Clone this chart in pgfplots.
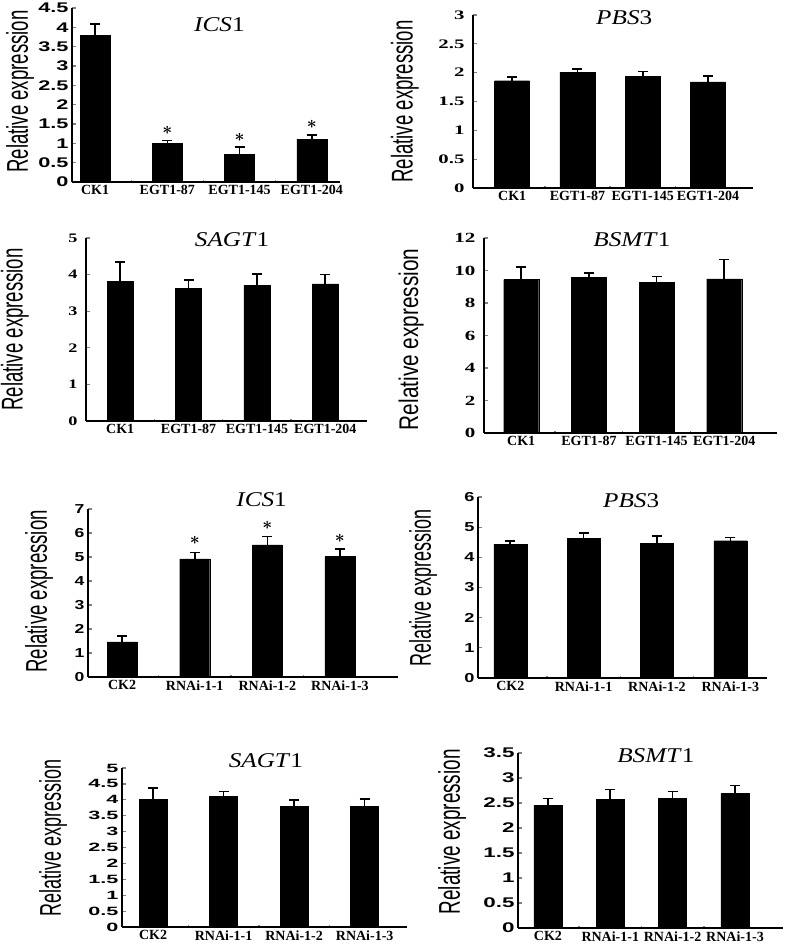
\documentclass[border=0pt]{standalone}
\usepackage{fontspec}
\setmainfont{Liberation Serif}
\setsansfont{Liberation Sans}
\usepackage{graphicx}
\usepackage{pgfplots}
\pgfplotsset{compat=1.18}
\newcommand\ylab[2]{\scalebox{#2}[1]{\fontsize{#1}{#1}\selectfont\sffamily Relative expression}}
\newcommand\ttl[1]{\scalebox{1.2}[1]{#1}}

\pgfplotsset{
  panel/.style={
    scale only axis, clip=false,
    axis x line*=bottom, axis y line*=left,
    axis line style={line width=1.4pt},
    ymin=0,
    xtick={0,1,2,3}, minor xtick={0.5,1.5,2.5},
    major x tick style={draw=none},
    minor x tick style={line width=1.4pt},
    ytick style={line width=1.2pt},
    tick align=inside, major tick length=4pt, minor tick length=2.5pt,
    xticklabel style={font=\fontsize{14}{14}\selectfont\bfseries},
    /pgf/number format/assume math mode=true,
    ylabel style={anchor=center},
    title style={anchor=center, font=\fontsize{21}{21}\selectfont},
  },
  sanstick/.style 2 args={
    yticklabel={\scalebox{#2}[1]{\pgfmathprintnumber{\tick}}},
    yticklabel style={font=\sffamily\bfseries\fontsize{#1}{#1}\selectfont}},
  seriftick/.style 2 args={
    yticklabel={\scalebox{#2}[1]{\pgfmathprintnumber{\tick}}},
    yticklabel style={font=\rmfamily\bfseries\fontsize{#1}{#1}\selectfont, xshift=-5pt}},
  bars/.style={ybar, bar width=#1, fill=black, draw=black,
    error bars/.cd, y dir=plus, y explicit,
    error bar style={line width=1.6pt},
    error mark options={rotate=90, mark size=5pt, line width=1.6pt}},
  stars/.style={only marks, mark=text,
    text mark={\fontsize{18}{18}\selectfont\boldmath$\ast$}},
}

\begin{document}
\begin{tikzpicture}
\useasboundingbox (0pt,0pt) rectangle (787pt,-945pt);

% row 1, left: ICS1 (EGT1 lines)
\begin{axis}[panel, sanstick={14}{1.55}, at={(72pt,-182pt)}, anchor=south west,
  width=268pt, height=174pt, xmin=-0.32, xmax=3.39, ymax=4.5, ytick distance=0.5,
  xticklabels={CK1,EGT1-87,EGT1-145,EGT1-204},
  ylabel={\ylab{30}{0.62}}, ylabel style={at={(axis description cs:-0.194,0.52)}},
  title={\ttl{\textit{ICS}1}}, title style={at={(axis description cs:0.55,0.87)}}]
\addplot[bars=30pt] coordinates {(0,3.80) +- (0,0.28) (1,1.00) +- (0,0.07) (2,0.72) +- (0,0.18) (3,1.11) +- (0,0.10)};
\addplot[stars] coordinates {(1,1.33) (2,1.16) (3,1.50)};
\end{axis}

% row 1, right: PBS3
\begin{axis}[panel, seriftick={13}{1.6}, at={(473pt,-188pt)}, anchor=south west,
  width=280pt, height=173pt, xmin=-0.6, xmax=3.69, ymax=3, ytick distance=0.5,
  xticklabels={CK1,EGT1-87,EGT1-145,EGT1-204},
  ylabel={\ylab{30}{0.62}}, ylabel style={at={(axis description cs:-0.243,0.50)}},
  title={\ttl{\textit{PBS}3}}, title style={at={(axis description cs:0.54,0.95)}}]
\addplot[bars=35pt] coordinates {(0,1.86) +- (0,0.06) (1,2.01) +- (0,0.05) (2,1.94) +- (0,0.08) (3,1.84) +- (0,0.10)};
\end{axis}

% row 2, left: SAGT1
\begin{axis}[panel, seriftick={13}{1.4}, at={(86pt,-421pt)}, anchor=south west,
  width=281pt, height=183pt, xmin=-0.5, xmax=3.61, ymax=5, ytick distance=1,
  xticklabels={CK1,EGT1-87,EGT1-145,EGT1-204},
  ylabel={\ylab{30}{0.62}}, ylabel style={at={(axis description cs:-0.253,0.50)}},
  title={\ttl{\textit{SAGT}1}}, title style={at={(axis description cs:0.52,0.96)}}]
\addplot[bars=26pt] coordinates {(0,3.81) +- (0,0.53) (1,3.63) +- (0,0.23) (2,3.70) +- (0,0.32) (3,3.75) +- (0,0.25)};
\end{axis}

% row 2, right: BSMT1
\begin{axis}[panel, seriftick={14}{1.5}, at={(484pt,-433pt)}, anchor=south west,
  width=293pt, height=195pt, xmin=-0.55, xmax=3.78, ymax=12, ytick distance=2,
  xticklabels={CK1,EGT1-87,EGT1-145,EGT1-204},
  ylabel={\ylab{27}{0.77}}, ylabel style={at={(axis description cs:-0.249,0.48)}},
  title={\ttl{\textit{BSMT}1}}, title style={at={(axis description cs:0.505,0.96)}}]
\addplot[bars=35pt] coordinates {(0,9.44) +- (0,0.76) (1,9.58) +- (0,0.27) (2,9.27) +- (0,0.37) (3,9.48) +- (0,1.19)};
\end{axis}

% row 3, left: ICS1 (RNAi lines)
\begin{axis}[panel, sanstick={13}{1.35}, at={(88pt,-677pt)}, anchor=south west,
  width=310pt, height=168pt, xmin=-0.47, xmax=3.8, ymax=7, ytick distance=1,
  xticklabels={CK2,RNAi-1-1,RNAi-1-2,RNAi-1-3},
  ylabel={\ylab{30}{0.62}}, ylabel style={at={(axis description cs:-0.158,0.51)}},
  title={\ttl{\textit{ICS}1}}, title style={at={(axis description cs:0.56,1.02)}}]
\addplot[bars=30pt] coordinates {(0,1.46) +- (0,0.26) (1,4.92) +- (0,0.27) (2,5.51) +- (0,0.35) (3,5.02) +- (0,0.31)};
\addplot[stars] coordinates {(1,5.71) (2,6.33) (3,5.79)};
\end{axis}

% row 3, right: PBS3
\begin{axis}[panel, sanstick={13}{1.4}, at={(478pt,-678pt)}, anchor=south west,
  width=289pt, height=181pt, xmin=-0.44, xmax=3.5, ymax=6, ytick distance=1,
  xticklabels={CK2,RNAi-1-1,RNAi-1-2,RNAi-1-3},
  ylabel={\ylab{30}{0.60}}, ylabel style={at={(axis description cs:-0.19,0.50)}},
  title={\ttl{\textit{PBS}3}}, title style={at={(axis description cs:0.53,0.945)}}]
\addplot[bars=33pt] coordinates {(0,4.44) +- (0,0.11) (1,4.64) +- (0,0.17) (2,4.46) +- (0,0.24) (3,4.55) +- (0,0.11)};
\end{axis}

% row 4, left: SAGT1
\begin{axis}[panel, sanstick={12}{1.8}, at={(122pt,-927pt)}, anchor=south west,
  width=285pt, height=159pt, xmin=-0.44, xmax=3.6, ymax=5, ytick distance=0.5,
  xticklabels={CK2,RNAi-1-1,RNAi-1-2,RNAi-1-3},
  ylabel={\ylab{30}{0.60}}, ylabel style={at={(axis description cs:-0.242,0.56)}},
  title={\ttl{\textit{SAGT}1}}, title style={at={(axis description cs:0.505,1.006)}}]
\addplot[bars=28pt] coordinates {(0,4.02) +- (0,0.35) (1,4.11) +- (0,0.15) (2,3.79) +- (0,0.21) (3,3.79) +- (0,0.23)};
\end{axis}

% row 4, right: BSMT1
\begin{axis}[panel, sanstick={14}{1.6}, at={(518pt,-928pt)}, anchor=south west,
  width=265pt, height=175pt, xmin=-0.48, xmax=3.77, ymax=3.5, ytick distance=0.5,
  xticklabels={CK2,RNAi-1-1,RNAi-1-2,RNAi-1-3},
  ylabel={\ylab{30}{0.63}}, ylabel style={at={(axis description cs:-0.249,0.55)}},
  title={\ttl{\textit{BSMT}1}}, title style={at={(axis description cs:0.52,0.95)}}]
\addplot[bars=28pt] coordinates {(0,2.45) +- (0,0.14) (1,2.57) +- (0,0.20) (2,2.60) +- (0,0.13) (3,2.69) +- (0,0.16)};
\end{axis}
\end{tikzpicture}
\end{document}
